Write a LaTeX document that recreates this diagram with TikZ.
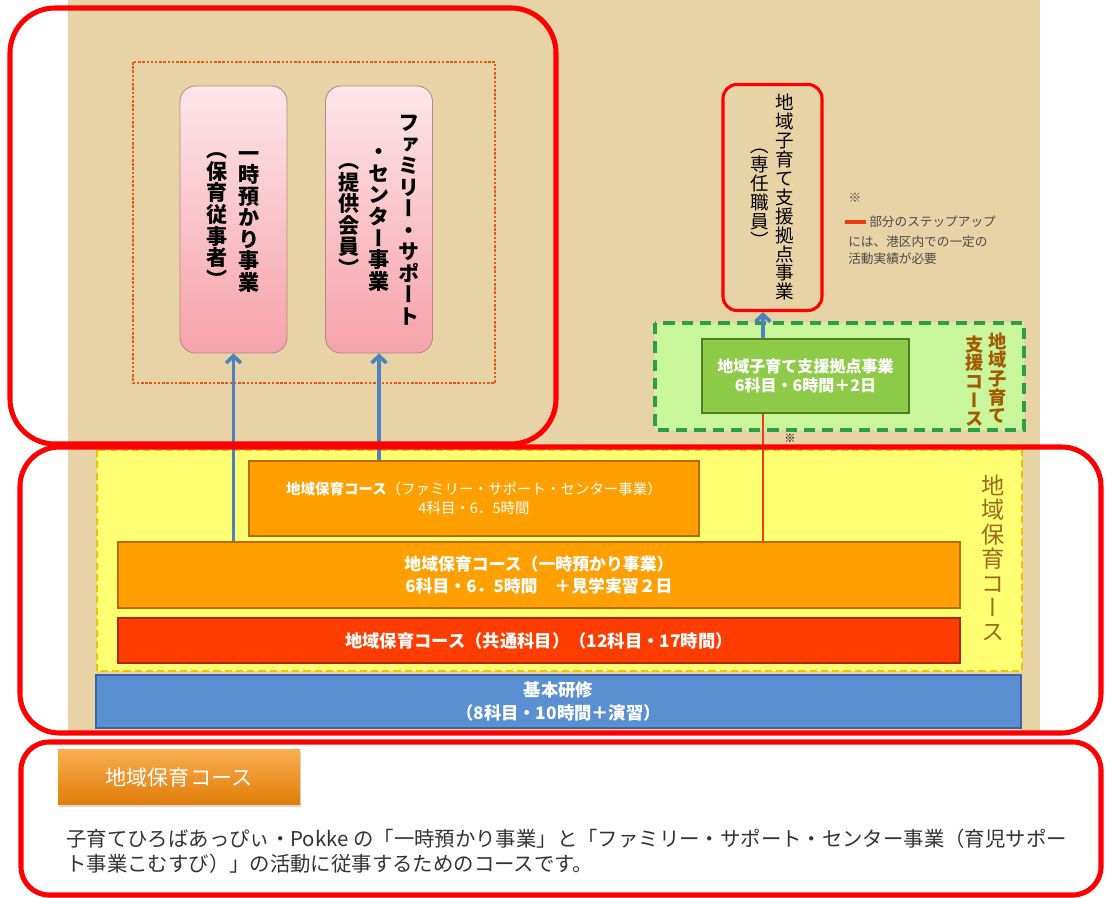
\documentclass[tikz,border=0pt]{standalone}
\usepackage{fontspec}
\setmainfont{Noto Sans CJK JP}
\newfontfamily\tatefont{Noto Sans CJK JP}[RawFeature=+vert]
\usetikzlibrary{arrows.meta, positioning, shadows}

\definecolor{beige}{HTML}{E7D3A5}
\definecolor{frame}{HTML}{FF0000}
\definecolor{kiiro}{HTML}{FFFF72}
\definecolor{kiirodash}{HTML}{F2C200}
\definecolor{daidai}{HTML}{FFA000}
\definecolor{daidaiedge}{HTML}{B96A00}
\definecolor{aka}{HTML}{FF3D00}
\definecolor{akaedge}{HTML}{A82800}
\definecolor{ao}{HTML}{5A8FD2}
\definecolor{aoedge}{HTML}{3A65A0}
\definecolor{arrowblue}{HTML}{4F81BD}
\definecolor{stepred}{HTML}{F03C14}
\definecolor{midori}{HTML}{C9F59B}
\definecolor{midoridash}{HTML}{2E9E45}
\definecolor{midoribox}{HTML}{8DCB49}
\definecolor{midoriedge}{HTML}{4F7D24}
\definecolor{pinktop}{HTML}{FDE6EA}
\definecolor{pinkbot}{HTML}{F6A2AA}
\definecolor{pinkedge}{HTML}{B58888}
\definecolor{dotred}{HTML}{E85A1A}
\definecolor{chairo}{HTML}{9E6A1C}
\definecolor{chairo2}{HTML}{A35A00}
\definecolor{note}{HTML}{4A4A4A}
\definecolor{bodytext}{HTML}{333333}
\definecolor{kosutop}{HTML}{F9AE50}
\definecolor{kosubot}{HTML}{E07C08}

\newcommand{\px}{0.025cm}

% one character per line, for the upright columns
\ExplSyntaxOn
\seq_new:N \l_tate_seq
\NewDocumentCommand{\tate}{m}{
  \seq_clear:N \l_tate_seq
  \tl_map_inline:nn {#1} { \seq_put_right:Nn \l_tate_seq {##1} }
  \seq_use:Nn \l_tate_seq { \\ }
}
\ExplSyntaxOff

\tikzset{
  tatecol/.style={align=center, inner sep=0pt},
  pinkbox/.style={draw=pinkedge, line width=0.6pt, rounded corners=11pt, top color=pinktop, bottom color=pinkbot},
  bar/.style={draw=daidaiedge, line width=1.2pt, fill=daidai, text=white, align=center, inner sep=0pt},
  redbar/.style={bar, draw=akaedge, fill=aka},
  bluebar/.style={bar, draw=aoedge, fill=ao},
  grbox/.style={bar, draw=midoriedge, fill=midoribox},
  bluearrow/.style={draw=arrowblue, line width=2.6pt, -{Straight Barb[length=5pt, width=10.5pt]}},
  stepline/.style={draw=stepred, line width=1.6pt},
  bigframe/.style={draw=frame, line width=3.6pt},
  notetext/.style={text=note, inner sep=0pt, font=\fontsize{9}{11}\selectfont}
}

\begin{document}
\begin{tikzpicture}[x=0.025cm, y=-0.025cm]
\useasboundingbox (0,0) rectangle (1105,897);
\fill[white] (0,0) rectangle (1105,897);
\fill[beige] (68,0) rectangle (1040,735);

% upper left: the two jobs
\draw[dotred, line width=2pt, dash pattern=on 1.8pt off 1.2pt] (133,62) rectangle (495,383);
\node[pinkbox, minimum width={107*\px}, minimum height={267*\px}] (ichiji) at (233.5,219.5) {};
\node[pinkbox, minimum width={107*\px}, minimum height={267*\px}] (famisapo) at (379,219.5) {};
\node[tatecol, font=\tatefont\bfseries\fontsize{15}{15.3}\selectfont] (ichiji-r) at (249,222) {\tate{一時預かり事業}};
\node[tatecol, font=\tatefont\bfseries\fontsize{15}{15.3}\selectfont] (ichiji-l) at (217,220) {\tate{（保育従事者）}};
\node[tatecol, font=\tatefont\bfseries\fontsize{15}{15.3}\selectfont] (famisapo-r) at (409,220) {\tate{ファミリー・サポート}};
\node[tatecol, font=\tatefont\bfseries\fontsize{15}{15.3}\selectfont] (famisapo-m) at (379,220) {\tate{・センター事業}};
\node[tatecol, font=\tatefont\bfseries\fontsize{15}{15.3}\selectfont] (famisapo-l) at (349,220) {\tate{（提供会員）}};

% upper right
\node[draw=frame, line width=2.2pt, rounded corners=10pt, minimum width={99*\px}, minimum height={226*\px}] (kyoten) at (772.5,197.5) {};
\node[tatecol, font=\tatefont\fontsize{13.2}{13.5}\selectfont] (kyoten-r) at (785,197) {\tate{地域子育て支援拠点事業}};
\node[tatecol, font=\tatefont\fontsize{13.2}{13.5}\selectfont] (kyoten-l) at (760,198) {\tate{（専任職員）}};

\node[notetext] (kome) at (855,198) {※};
\draw[stepline, line width=2.4pt] (845,222) -- (866,222);
\node[notetext, anchor=base west] (note1) at (869,226) {部分のステップアップ};
\node[notetext, anchor=base west] (note2) at (848,246) {には、港区内での一定の};
\node[notetext, anchor=base west] (note3) at (848,263) {活動実績が必要};

\draw[midoridash, line width=2.6pt, dash pattern=on 8pt off 5pt, fill=midori] (655,323) rectangle (1024,430);
\node[grbox, minimum width={207*\px}, minimum height={74*\px}, font=\bfseries\fontsize{11.4}{13.6}\selectfont] (kyotenko) at (805.5,376) {地域子育て支援拠点事業\\6科目・6時間＋2日};
\node[tatecol, text=chairo2, font=\tatefont\bfseries\fontsize{13}{13.3}\selectfont] (shien-r) at (998,378) {\tate{地域子育て}};
\node[tatecol, text=chairo2, font=\tatefont\bfseries\fontsize{13}{13.3}\selectfont] (shien-l) at (975,381) {\tate{支援コース}};
\node[font=\fontsize{8}{9}\selectfont, inner sep=0pt] (kome2) at (790,438) {※};

% course blocks
\draw[kiirodash, line width=1.8pt, dash pattern=on 5pt off 3pt, fill=kiiro] (97,450) rectangle (1022,671);
\node[tatecol, text=chairo, font=\tatefont\fontsize{16.5}{17.4}\selectfont] (hoiku-label) at (993,558) {\tate{地域保育コース}};

\node[bar, minimum width={450*\px}, minimum height={75*\px}, font=\fontsize{10.3}{13.5}\selectfont] (fsc) at (474,498.5) {{\bfseries 地域保育コース}（ファミリー・サポート・センター事業）\\4科目・6．5時間};
\node[bar, minimum width={842*\px}, minimum height={66*\px}, font=\bfseries\fontsize{12}{15.6}\selectfont] (ichijiko) at (539,575) {地域保育コース（一時預かり事業）\\6科目・6．5時間　＋見学実習２日};
\node[redbar, minimum width={842*\px}, minimum height={45*\px}, font=\bfseries\fontsize{12.3}{14}\selectfont] (kyotsu) at (539,640.5) {地域保育コース（共通科目）（12科目・17時間）};
\node[bluebar, minimum width={925*\px}, minimum height={53*\px}, font=\bfseries\fontsize{12.3}{16.4}\selectfont] (kihon) at (558.5,701.5) {基本研修\\（8科目・10時間＋演習）};

% connectors
\coordinate (stepx) at (763,0);
\draw[bluearrow] (ichijiko.north -| ichiji.south) -- (ichiji.south);
\draw[bluearrow] (fsc.north -| famisapo.south) -- (famisapo.south);
\draw[bluearrow] (kyotenko.north -| stepx) -- (kyoten.south -| stepx);
\draw[stepline] (kyotenko.south -| stepx) -- (ichijiko.north -| stepx);

% explanation
\node[minimum width={242*\px}, minimum height={55*\px}, top color=kosutop, bottom color=kosubot, text=white, font=\fontsize{15}{17}\selectfont, drop shadow={opacity=0.3, shadow xshift=1pt, shadow yshift=-1.5pt}] (kosu) at (179,777) {地域保育コース};
\node[anchor=base west, inner sep=0pt, text=bodytext, font=\fontsize{14.5}{17}\selectfont] (setsumei1) at (66,846) {子育てひろばあっぴぃ・Pokke の「一時預かり事業」と「ファミリー・サポート・センター事業（育児サポー};
\node[anchor=base west, inner sep=0pt, text=bodytext, font=\fontsize{14.5}{17}\selectfont] (setsumei2) at (66,871) {ト事業こむすび）」の活動に従事するためのコースです。};

% red frames
\draw[bigframe, rounded corners=32pt] (10,8) rectangle (556,444);
\draw[bigframe, rounded corners=28pt] (20,447) rectangle (1101,733);
\draw[bigframe, rounded corners=20pt] (21,742) rectangle (1101,895);
\end{tikzpicture}
\end{document}
